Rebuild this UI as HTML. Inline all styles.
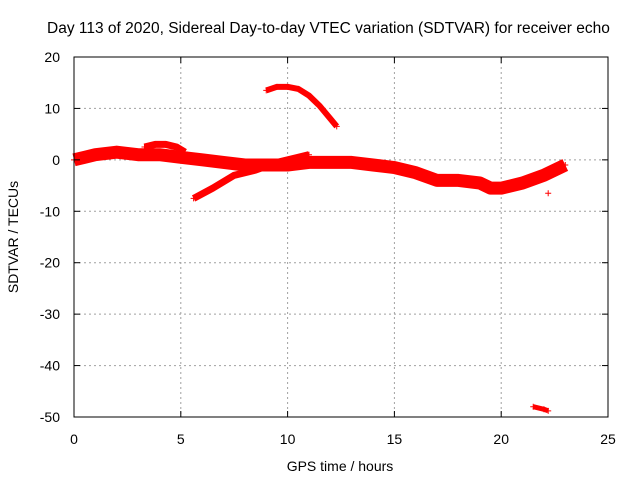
<!DOCTYPE html>
<html><head><meta charset="utf-8"><style>
body{margin:0;background:#fff}
svg text{font-family:"Liberation Sans",sans-serif;font-size:14px;fill:#000}
</style></head><body>
<svg id="c" width="640" height="480">
<rect width="640" height="480" fill="#fff"/>
<g id="grid"></g><g id="marks"></g><g id="axes"></g>
<text x="47" y="33" style="font-size:15.5px">Day 113 of 2020, Sidereal Day-to-day VTEC variation (SDTVAR) for receiver echo</text>
<text x="340" y="471" text-anchor="middle">GPS time / hours</text>
<text transform="translate(18,237) rotate(-90)" text-anchor="middle">SDTVAR / TECUs</text>
</svg>
<script>
const xTicks=[0,5,10,15,20,25];
const yTicks=[20,10,0,-10,-20,-30,-40,-50];
const mainX=[0,0.5,1,2,3,4,5,6,7,8,9,10,11,12,13,14,15,16,17,18,19,19.5,20,21,22,22.5,23];
const mainY=[0,0.5,1,1.5,1,1,0.5,0,-0.5,-1,-1,-1,-0.5,-0.5,-0.5,-1,-1.5,-2.5,-4,-4,-4.5,-5.5,-5.5,-4.5,-3,-2,-1];
const upperX=[3.3,3.8,4.3,4.8,5.2];
const upperY=[2.5,3,3,2.5,1.5];
const riseX=[5.6,6.5,7.5,8.5,9.5,10.5,11];
const riseY=[-7.5,-5.5,-3,-2,-0.5,0.5,1];
const arcX=[9,9.5,10,10.5,11,11.5,12,12.3];
const arcY=[13.5,14.2,14.2,13.8,12.5,10.5,8,6.5];
const lowX=[21.5,22,22.2];
const lowY=[-48,-48.5,-48.8];
const singleX=[22.2];
const singleY=[-6.5];
const X0=74,X1=608,Y0=57,Y1=417;
const sx=v=>X0+(v-0)/(25-0)*(X1-X0);
const sy=v=>Y0+(20-v)/(20+50)*(Y1-Y0);
const NS='http://www.w3.org/2000/svg';
function mk(p,t,a){const e=document.createElementNS(NS,t);for(const k in a)e.setAttribute(k,a[k]);p.appendChild(e);return e;}
const grid=document.getElementById('grid'),axes=document.getElementById('axes'),marks=document.getElementById('marks');
xTicks.forEach(v=>{const x=sx(v);
 if(v>0&&v<25){const g=mk(grid,'line',{x1:x,x2:x,y1:Y0,y2:Y1,stroke:'#a0a0a0','stroke-dasharray':'2,3'});
 
 }
 mk(axes,'line',{x1:x,x2:x,y1:Y1,y2:Y1-6,stroke:'#000'});mk(axes,'line',{x1:x,x2:x,y1:Y0,y2:Y0+6,stroke:'#000'});
 const t=mk(axes,'text',{x:x,y:Y1+27,'text-anchor':'middle'});t.textContent=v;
 
 });
yTicks.forEach(v=>{const y=sy(v);
 if(v<20&&v>-50){const g=mk(grid,'line',{x1:X0,x2:X1,y1:y,y2:y,stroke:'#a0a0a0','stroke-dasharray':'2,3'});
 
 }
 mk(axes,'line',{x1:X0,x2:X0+6,y1:y,y2:y,stroke:'#000'});mk(axes,'line',{x1:X1,x2:X1-6,y1:y,y2:y,stroke:'#000'});
 const t=mk(axes,'text',{x:X0-14,y:y+5,'text-anchor':'end'});t.textContent=v;
 
 });
const fr=mk(axes,'rect',{x:X0,y:Y0,width:X1-X0,height:Y1-Y0,fill:'none',stroke:'#000'});


function track(xs,ys,w,name){
 const pts=xs.map((x,i)=>sx(x)+','+sy(ys[i])).join(' ');
 if(xs.length>1){const p=mk(marks,'polyline',{points:pts,fill:'none',stroke:'#f00','stroke-width':w,'stroke-linejoin':'round','stroke-linecap':'butt'});
 
 }
 xs.forEach((x,i)=>{const cx=sx(x),cy=sy(ys[i]);
  const m=mk(marks,'path',{d:`M${cx-3},${cy}h6M${cx},${cy-3}v6`,stroke:'#f00','stroke-width':1});
  
  });
}
track(mainX,mainY,13,'main-band');
track(upperX,upperY,7,'upper-band');
track(riseX,riseY,7,'rising-track');
track(arcX,arcY,6,'arc-track');
track(lowX,lowY,5,'low-track');
track(singleX,singleY,1,'single-point');
</script>
</body></html>
